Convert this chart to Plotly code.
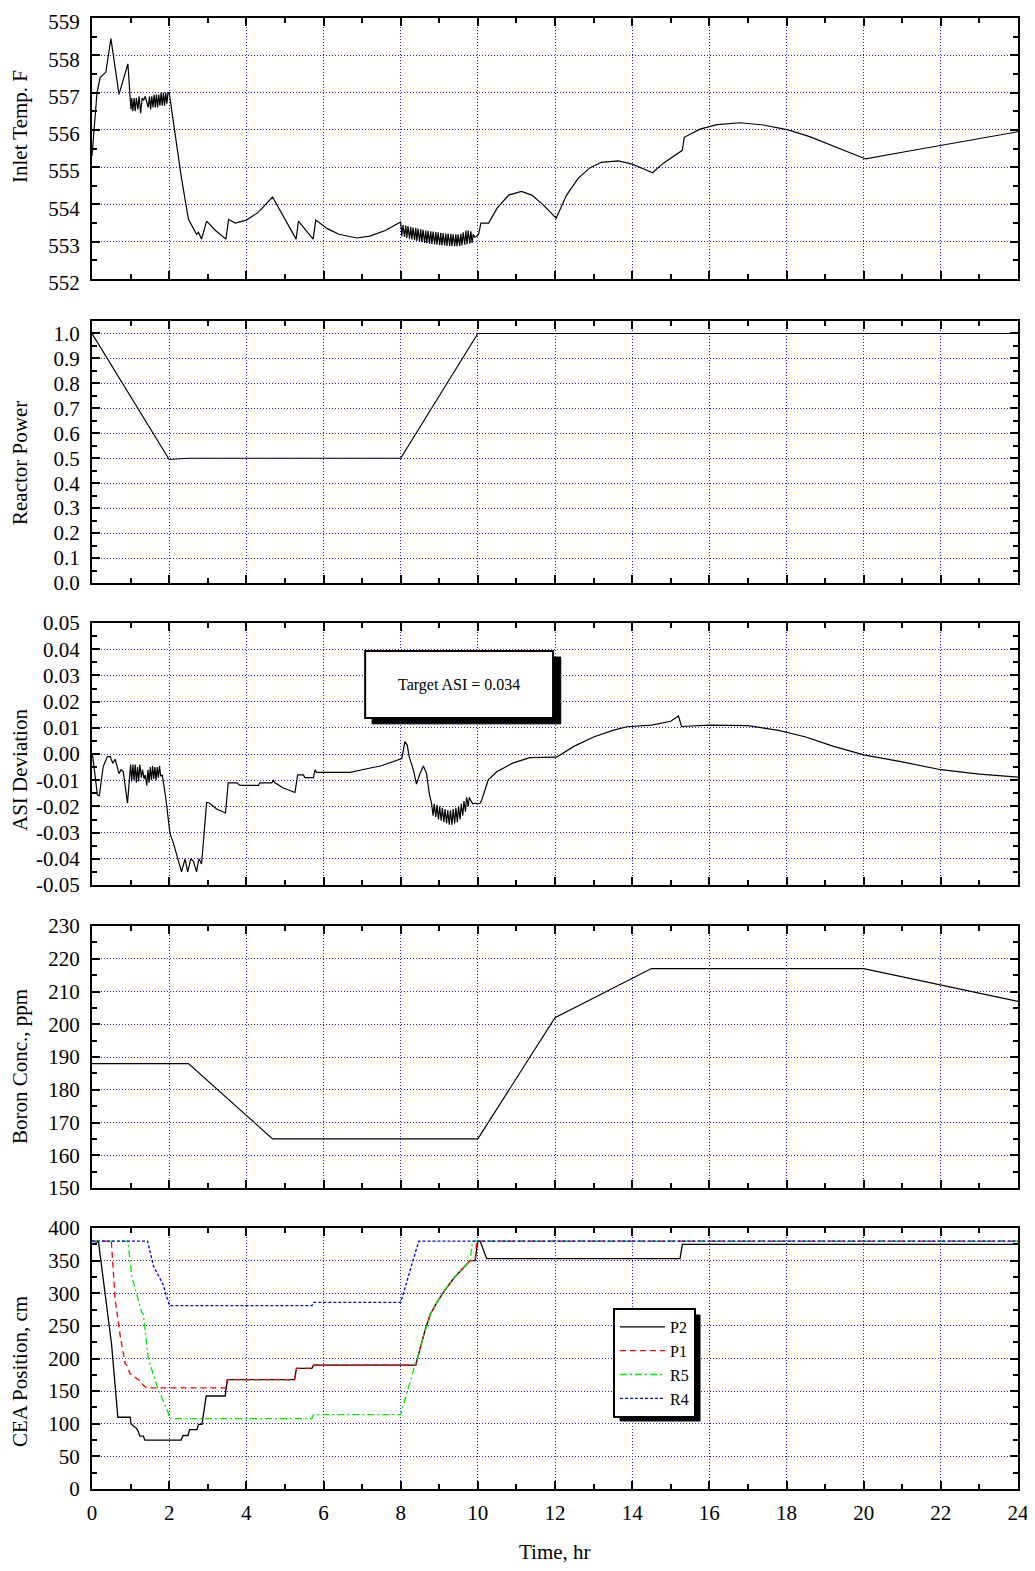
import plotly.graph_objects as go

# ---------------- Panel 1: Inlet temperature ----------------
temp_t = [0.0, 0.13, 0.21, 0.36, 0.49, 0.70, 0.93, 1.01,
          1.03, 1.06, 1.09, 1.12, 1.15, 1.19, 1.22, 1.26, 1.30, 1.34, 1.38, 1.42, 1.46,
          1.49, 1.52, 1.55, 1.58, 1.61, 1.64, 1.67, 1.70, 1.73, 1.76, 1.79, 1.82, 1.85,
          1.88, 1.91, 1.94, 1.97, 2.0,
          2.32, 2.5, 2.71, 2.76, 2.84, 2.97, 3.2, 3.47, 3.54, 3.71, 4.0, 4.3, 4.68,
          5.0, 5.29, 5.35, 5.73, 5.80, 6.1, 6.4, 6.86, 7.2, 7.6,
          8.00, 8.03, 8.06, 8.10, 8.13, 8.16, 8.19, 8.23, 8.26, 8.29, 8.32, 8.36, 8.39,
          8.42, 8.45, 8.49, 8.52, 8.55, 8.58, 8.62, 8.65, 8.68, 8.71, 8.75, 8.78, 8.81,
          8.84, 8.88, 8.91, 8.94, 8.97, 9.01, 9.04, 9.07, 9.10, 9.14, 9.17, 9.20, 9.23,
          9.27, 9.30, 9.33, 9.36, 9.40, 9.43, 9.46, 9.49, 9.53, 9.56, 9.59, 9.62, 9.66,
          9.69, 9.72, 9.75, 9.79, 9.82, 9.85, 9.88,
          9.92, 9.98, 10.02, 10.08, 10.28, 10.5, 10.8, 11.13, 11.4, 11.7, 12.03, 12.3,
          12.6, 12.9, 13.2, 13.64, 14.0, 14.3, 14.53, 14.8, 15.1, 15.3, 15.35, 15.45,
          15.76, 16.2, 16.8, 17.4, 18.04, 18.6, 19.2, 19.6, 20.05, 21.0, 22.0, 23.0, 24.0]
temp_v = [555.3, 557.0, 557.4, 557.55, 558.45, 556.95, 557.77, 556.55,
          556.85, 556.5, 556.85, 556.5, 556.85, 556.55, 556.9, 556.45, 556.85, 556.8, 556.9, 556.75, 556.6,
          556.9, 556.55, 556.9, 556.6, 556.95, 556.6, 556.95, 556.6, 556.95, 556.65, 557.0, 556.65, 557.0,
          556.65, 557.0, 556.7, 557.0, 557.0,
          554.7, 553.6, 553.2, 553.25, 553.07, 553.55, 553.3, 553.07, 553.6, 553.5, 553.58, 553.78, 554.2,
          553.6, 553.07, 553.55, 553.07, 553.58, 553.35, 553.2, 553.1, 553.15, 553.3,
          553.53, 553.15, 553.45, 553.13, 553.43, 553.1, 553.42, 553.08, 553.4, 553.06, 553.38, 553.04, 553.37,
          553.02, 553.35, 553.0, 553.34, 552.99, 553.32, 552.97, 553.3, 552.96, 553.29, 552.95, 553.28, 552.94,
          553.27, 552.93, 553.26, 552.92, 553.25, 552.91, 553.24, 552.9, 553.23, 552.9, 553.22, 552.89, 553.22,
          552.89, 553.21, 552.88, 553.2, 552.88, 553.2, 552.88, 553.2, 552.89, 553.21, 552.9, 553.25, 552.92,
          553.3, 552.93, 553.3, 552.95, 553.28, 552.97, 553.2,
          553.12, 553.15, 553.2, 553.5, 553.5, 553.9, 554.25, 554.35, 554.25, 553.98, 553.63, 554.25,
          554.7, 554.98, 555.13, 555.17, 555.08, 554.95, 554.85, 555.1, 555.3, 555.45, 555.8, 555.85,
          556.02, 556.14, 556.19, 556.13, 556.0, 555.82, 555.58, 555.4, 555.22, 555.4, 555.58, 555.76, 555.95]

# ---------------- Panel 2: Reactor power ----------------
power_t = [0, 2.0, 2.5, 8.0, 10.0, 24.0]
power_v = [1.0, 0.495, 0.5, 0.5, 1.0, 1.0]

# ---------------- Panel 3: ASI deviation ----------------
asi_t = [0.0, 0.02, 0.14, 0.19, 0.29, 0.40, 0.47, 0.54, 0.60, 0.66, 0.70, 0.75, 0.81, 0.92, 1.00,
         1.03, 1.06, 1.09, 1.12, 1.15, 1.18, 1.21, 1.24, 1.28, 1.31, 1.35, 1.38, 1.42, 1.45,
         1.48, 1.51, 1.54, 1.57, 1.60, 1.63, 1.66, 1.69, 1.72, 1.75, 1.78, 1.82,
         1.91, 2.02, 2.11, 2.32, 2.41, 2.48, 2.56, 2.63, 2.71, 2.77, 2.84, 2.97, 3.04, 3.23, 3.46,
         3.53, 3.75, 3.84, 4.31, 4.35, 4.66, 4.70, 4.74, 4.96, 5.26, 5.33, 5.48, 5.52, 5.74, 5.78,
         5.82, 6.69, 7.0, 7.5, 8.03, 8.11, 8.17, 8.22, 8.33, 8.41, 8.50, 8.59, 8.67, 8.74,
         8.80, 8.84, 8.87, 8.91, 8.94, 8.98, 9.01, 9.05, 9.08, 9.12, 9.15, 9.19, 9.22, 9.26,
         9.29, 9.33, 9.36, 9.40, 9.43, 9.47, 9.50, 9.54, 9.57, 9.61, 9.64, 9.68, 9.71, 9.75,
         9.78, 9.81, 9.87, 9.93, 10.0, 10.06, 10.1, 10.27, 10.49, 10.9, 11.35, 12.04, 12.5,
         13.0, 13.5, 13.86, 14.5, 15.0, 15.2, 15.28, 16.0, 17.0, 17.8, 18.5, 19.2, 20.0,
         21.0, 22.0, 23.0, 24.0]
asi_v = [0.0, -0.001, -0.0156, -0.016, -0.0048, -0.001, -0.001, -0.0035, -0.002, -0.005, -0.0075,
         -0.006, -0.0067, -0.0188, -0.004,
         -0.0105, -0.004, -0.010, -0.004, -0.011, -0.005, -0.0105, -0.004, -0.009, -0.006, -0.0095,
         -0.008, -0.012, -0.006, -0.011, -0.005, -0.010, -0.0045, -0.0095, -0.005, -0.010, -0.005,
         -0.009, -0.0045, -0.0085, -0.008,
         -0.0165, -0.0303, -0.034, -0.045, -0.040, -0.045, -0.040, -0.041, -0.045, -0.040, -0.042,
         -0.0185, -0.0187, -0.021, -0.0225,
         -0.011, -0.011, -0.012, -0.012, -0.011, -0.011, -0.010, -0.011, -0.013, -0.0147, -0.008,
         -0.008, -0.009, -0.009, -0.006,
         -0.007, -0.007, -0.006, -0.0045, -0.0017, 0.0047, 0.0034, -0.001, -0.0061, -0.0115,
         -0.0074, -0.0046, -0.0074, -0.015,
         -0.0188, -0.0235, -0.019, -0.024, -0.0195, -0.025, -0.020, -0.0255, -0.0205, -0.026,
         -0.021, -0.0265, -0.0215, -0.027, -0.0215, -0.027, -0.021, -0.0265, -0.0205, -0.026,
         -0.020, -0.025, -0.019, -0.0235, -0.018, -0.022, -0.0165, -0.020, -0.0165, -0.0176,
         -0.019, -0.0188, -0.019, -0.0188, -0.0176, -0.0099, -0.0068, -0.0035, -0.0014, -0.0012,
         0.003, 0.0065, 0.009, 0.0104, 0.011, 0.0125, 0.0145, 0.0105, 0.011, 0.0108, 0.009,
         0.0065, 0.003, -0.0003, -0.003, -0.006, -0.0077, -0.0088]
asi_tickvals = [-0.05, -0.04, -0.03, -0.02, -0.01, 0.0, 0.01, 0.02, 0.03, 0.04, 0.05]
asi_ticktext = ["-0.05", "-0.04", "-0.03", "-0.02", "-0.01", "0.00", "0.01", "0.02", "0.03", "0.04", "0.05"]

# ---------------- Panel 4: Boron concentration ----------------
boron_t = [0.0, 2.5, 4.68, 10.0, 12.0, 14.5, 20.0, 24.0]
boron_v = [188, 188, 165, 165, 202, 217, 217, 207]

# ---------------- Panel 5: CEA positions ----------------
rise_t = [8.43, 8.52, 8.64, 8.77, 8.94, 9.16, 9.42, 9.63, 9.80]
rise_v = [199, 220, 245, 268, 286, 306, 326, 339, 350]

p2_t = [0.0, 0.17, 0.51, 0.67, 0.99, 1.01, 1.07, 1.16, 1.20, 1.24, 1.33, 1.37, 2.31, 2.36,
        2.49, 2.53, 2.72, 2.76, 2.85, 2.96, 3.45, 3.51, 5.25, 5.30, 5.70, 5.74, 8.39] + rise_t + \
       [9.93, 10.0, 10.06, 10.23, 15.24, 15.30, 24.0]
p2_v = [380, 378, 220, 110, 110, 100, 97, 92.6, 88, 81, 81, 75, 75, 82,
        82, 91, 91, 99, 99, 142.5, 142.5, 167.5, 167.5, 185, 185, 190, 190] + rise_v + \
       [350, 380, 380, 353, 353, 375, 375]

p1_t = [0.0, 0.50, 0.60, 0.73, 0.86, 0.90, 0.99, 1.16, 1.24, 1.33, 1.41, 3.45, 3.51, 5.25,
        5.30, 5.70, 5.74, 8.39] + rise_t + [9.93, 9.97, 24.0]
p1_v = [380, 380, 291, 235, 192, 190, 176.5, 169, 166, 159, 155, 155, 167.5, 167.5,
        185, 185, 190, 190] + rise_v + [350, 380, 380]

r5_t = [0.0, 0.93, 1.03, 1.20, 1.29, 1.33, 1.46, 1.71, 1.89, 1.97, 2.01, 5.70, 5.74, 8.0,
        8.39] + rise_t + [9.86, 24.0]
r5_v = [380, 380, 326.5, 291, 270.5, 268, 199.4, 153.6, 128, 118, 108, 108, 114, 114,
        194] + rise_v + [380, 380]

r4_t = [0.0, 1.44, 1.59, 1.84, 1.97, 2.01, 5.70, 5.74, 8.0, 8.47, 24.0]
r4_v = [380, 380, 342, 314, 288, 281, 281, 286, 286, 380, 380]

x_ticks = [0, 2, 4, 6, 8, 10, 12, 14, 16, 18, 20, 22, 24]

y_titles = ["Inlet Temp. F", "Reactor Power", "ASI Deviation", "Boron Conc., ppm", "CEA Position, cm"]

FONT = "Liberation Serif"

fig = go.Figure()

blk = dict(color="black", width=1.2)
fig.add_trace(go.Scatter(x=temp_t, y=temp_v, mode="lines", line=blk, xaxis="x", yaxis="y", showlegend=False))
fig.add_trace(go.Scatter(x=power_t, y=power_v, mode="lines", line=blk, xaxis="x2", yaxis="y2", showlegend=False))
fig.add_trace(go.Scatter(x=asi_t, y=asi_v, mode="lines", line=blk, xaxis="x3", yaxis="y3", showlegend=False))
fig.add_trace(go.Scatter(x=boron_t, y=boron_v, mode="lines", line=blk, xaxis="x4", yaxis="y4", showlegend=False))

fig.add_trace(go.Scatter(x=p2_t, y=p2_v, mode="lines", name="P2",
                         line=dict(color="black", width=1.3), xaxis="x5", yaxis="y5"))
fig.add_trace(go.Scatter(x=p1_t, y=p1_v, mode="lines", name="P1",
                         line=dict(color="rgb(255,0,0)", width=1.3, dash="6px,4px"), xaxis="x5", yaxis="y5"))
fig.add_trace(go.Scatter(x=r5_t, y=r5_v, mode="lines", name="R5",
                         line=dict(color="rgb(0,235,0)", width=1.3, dash="7px,3px,2px,3px"), xaxis="x5", yaxis="y5"))
fig.add_trace(go.Scatter(x=r4_t, y=r4_v, mode="lines", name="R4",
                         line=dict(color="rgb(0,0,255)", width=1.3, dash="3px,2px"), xaxis="x5", yaxis="y5"))

# layout geometry (page pixels; the page body adds an 8px offset)
OFF = 8
H_TOP, H_BOT = 18, 1489
TOTAL = H_BOT - H_TOP
panels_px = [(18, 279), (321, 583), (623, 885), (926, 1188), (1228, 1489)]
domains = [[(H_BOT - b) / TOTAL, (H_BOT - t) / TOTAL] for (t, b) in panels_px]

tickfont = dict(family=FONT, size=21, color="black")
grid = dict(showgrid=True, gridcolor="rgb(30,30,255)", gridwidth=1, griddash="1px,2px")
common = dict(showline=True, linewidth=2, linecolor="black", mirror="ticks", ticks="inside",
              ticklen=8, tickwidth=2, tickcolor="black", zeroline=False, tickfont=tickfont,
              automargin=False, ticklabeloverflow="allow", **grid)

y_specs = [
    dict(range=[552, 559], dtick=1, tick0=552, minor_dtick=0.5, fmt=None),
    dict(range=[0, 1.05], dtick=0.1, tick0=0, minor_dtick=0.05, fmt=".1f"),
    dict(range=[-0.05, 0.05], dtick=0.01, tick0=-0.05, minor_dtick=0.005, fmt=".2f"),
    dict(range=[150, 230], dtick=10, tick0=150, minor_dtick=5, fmt=None),
    dict(range=[0, 400], dtick=50, tick0=0, minor_dtick=25, fmt=None),
]

FIG_W, FIG_H = 1023, 1555
layout = dict(
    width=FIG_W, height=FIG_H,
    margin=dict(l=92 - OFF, r=(FIG_W + OFF) - 1018, t=18 - OFF, b=(FIG_H + OFF) - 1489, autoexpand=False),
    paper_bgcolor="white", plot_bgcolor="white",
    font=dict(family=FONT, color="black"),
    showlegend=True,
    legend=dict(x=(613 - 92) / 926, y=(H_BOT - 1308) / TOTAL, xanchor="left", yanchor="top",
                bgcolor="white", bordercolor="black", borderwidth=2,
                font=dict(family=FONT, size=16, color="black"),
                tracegroupgap=0, itemwidth=45),
)

for i in range(5):
    n = "" if i == 0 else str(i + 1)
    spec = y_specs[i]
    xa = dict(common)
    xa.update(domain=[0, 1], anchor="y" + n, range=[0, 24], tickmode="array", tickvals=x_ticks,
              showticklabels=(i == 4), ticklabelstandoff=4,
              minor=dict(dtick=1, tick0=0, ticks="inside", ticklen=5, tickwidth=2, tickcolor="black", showgrid=False))
    ya = dict(common)
    ya.update(domain=domains[i], anchor="x" + n, range=spec["range"], dtick=spec["dtick"], tick0=spec["tick0"],
              ticklabelstandoff=6,
              minor=dict(dtick=spec["minor_dtick"], ticks="inside", ticklen=5, tickwidth=2, tickcolor="black", showgrid=False))
    if spec["fmt"]:
        ya["tickformat"] = spec["fmt"]
    if i == 0:
        ya["ticklabelshift"] = 4
    if i == 2:
        ya.update(tickmode="array", tickvals=asi_tickvals, ticktext=asi_ticktext)
    layout["xaxis" + n] = xa
    layout["yaxis" + n] = ya

fig.update_layout(**layout)

# Y-axis titles (rotated)
title_centers_px = [127, 463, 770, 1067, 1372]
for txt, yc in zip(y_titles, title_centers_px):
    fig.add_annotation(text=txt, xref="paper", yref="paper", x=(20 - 92) / 926, y=(H_BOT - yc) / TOTAL,
                       xanchor="center", yanchor="middle", textangle=-90, showarrow=False,
                       font=dict(family=FONT, size=21, color="black"))

# X-axis title
fig.add_annotation(text="Time, hr", xref="paper", yref="paper", x=0.5, y=(H_BOT - 1552) / TOTAL,
                   xanchor="center", yanchor="middle", showarrow=False,
                   font=dict(family=FONT, size=21, color="black"))

# Target ASI box with shadow (panel 3)
fig.add_shape(type="rect", xref="x3", yref="y3", x0=7.26, x1=12.15, y0=0.0115, y1=0.037,
              fillcolor="black", line=dict(color="black", width=1), layer="above")
fig.add_shape(type="rect", xref="x3", yref="y3", x0=7.08, x1=11.95, y0=0.0137, y1=0.0393,
              fillcolor="white", line=dict(color="black", width=2), layer="above")
fig.add_annotation(text="Target ASI = 0.034", xref="x3", yref="y3", x=9.51, y=0.0265,
                   showarrow=False, xanchor="center", yanchor="middle",
                   font=dict(family=FONT, size=16, color="black"))

# legend shadow
fig.add_shape(type="rect", xref="paper", yref="paper",
              x0=(620 - 92) / 926, x1=(700 - 92) / 926, y0=(H_BOT - 1421) / TOTAL, y1=(H_BOT - 1315) / TOTAL,
              fillcolor="black", line=dict(color="black", width=1), layer="above")

fig.write_html("out.html")
